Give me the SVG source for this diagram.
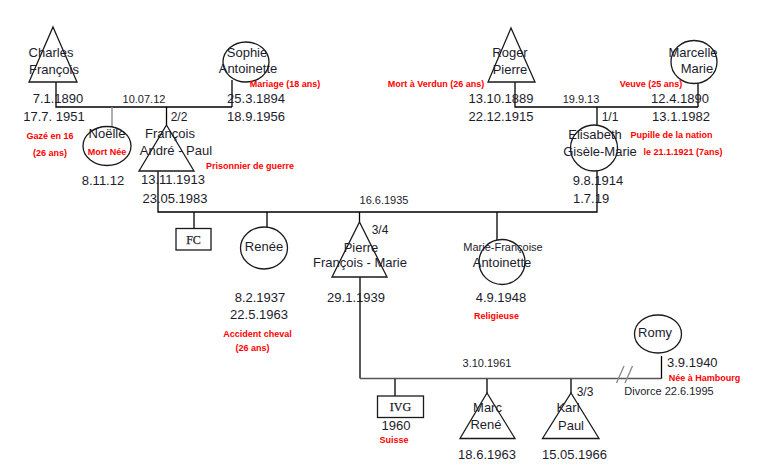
<svg xmlns="http://www.w3.org/2000/svg" width="774" height="472" viewBox="0 0 774 472">
<style>
.bg{fill:#fff}
.shape{fill:none;stroke:#1a1a1a;stroke-width:1.3}
.ln{fill:none;stroke:#000;stroke-width:1.3}
.gl{fill:none;stroke:#8c8c8c;stroke-width:1.4}
.dl{fill:none;stroke:#555;stroke-width:1.4}
text{font-family:"Liberation Sans",Arial,sans-serif;fill:#1c1c2c}
.n{font-size:13px;text-anchor:middle}
.d{font-size:13px;text-anchor:middle}
.s{font-size:11px;text-anchor:middle}
.f{font-size:12px;text-anchor:middle}
.r{font-size:9px;font-weight:bold;fill:#ff0000;text-anchor:middle}
.b{font-family:"Liberation Serif","Times New Roman",serif;font-size:12px;text-anchor:middle;stroke:#1c1c2c;stroke-width:0.25}
</style>
<rect class="bg" x="0" y="0" width="774" height="472"/>
<g id="connectors">
<path class="ln" d="M56 82V107H232"/>
<path class="ln" d="M232 80V107"/>
<path class="gl" d="M112 107V127"/>
<path class="ln" d="M166.5 107V125"/>
<path class="ln" d="M158 171V212H597V171"/>
<path class="ln" d="M194 212V228"/>
<path class="ln" d="M267 212V227"/>
<path class="ln" d="M359.5 212V222"/>
<path class="ln" d="M497 212V240"/>
<path class="ln" d="M515 82V107H698"/>
<path class="ln" d="M698 83V107"/>
<path class="ln" d="M597 107V125"/>
<path class="ln" d="M360 277V378.5"/>
<path class="dl" d="M360 378.5H661.5"/>
<path class="ln" d="M661.5 356V378.5"/>
<path class="ln" d="M395 379V396"/>
<path class="ln" d="M487 379V393"/>
<path class="ln" d="M571 379V393"/>
<path class="gl" d="M616.5 383L624 366M625 383L632.5 366"/>
</g>
<g id="charles"><polygon class="shape" points="53,27 77,82 29,82"/><text class="n" x="51" y="57">Charles</text><text class="n" x="54" y="74">François</text><text class="d" x="58" y="103">7.1.1890</text><text class="d" x="54" y="121">17.7. 1951</text><text class="r" x="50" y="139">Gazé en 16</text><text class="r" x="50" y="156">(26 ans)</text></g>
<g id="sophie"><ellipse class="shape" cx="246" cy="62" rx="23" ry="20"/><text class="n" x="247" y="57">Sophie</text><text class="n" x="248" y="73">Antoinette</text><text class="r" x="285" y="87">Mariage (18 ans)</text><text class="d" x="256" y="103">25.3.1894</text><text class="d" x="256" y="121">18.9.1956</text></g>
<g id="marriage1"><text class="s" x="144" y="103">10.07.12</text><text class="f" x="179" y="121">2/2</text></g>
<g id="noelle"><ellipse class="shape" cx="107" cy="146" rx="24" ry="19.5"/><text class="n" x="107" y="138">Noëlle</text><text class="r" x="107" y="155">Mort Née</text><text class="d" x="103" y="185">8.11.12</text></g>
<g id="francois"><polygon class="shape" points="166.5,125 194,171 139,171"/><text class="n" x="170" y="138">François</text><text class="n" x="176" y="155">André - Paul</text><text class="r" x="250" y="169">Prisonnier de guerre</text><text class="d" x="173" y="184">13.11.1913</text><text class="d" x="175" y="203">23.05.1983</text></g>
<g id="roger"><polygon class="shape" points="511,28 535,82 488,82"/><text class="n" x="510" y="57">Roger</text><text class="n" x="510" y="74">Pierre</text><text class="r" x="436" y="87">Mort à Verdun (26 ans)</text><text class="d" x="501" y="103">13.10.1889</text><text class="d" x="501" y="121">22.12.1915</text></g>
<g id="marcelle"><ellipse class="shape" cx="694" cy="62" rx="23" ry="21.5"/><text class="n" x="693" y="57">Marcelle</text><text class="n" x="697" y="73">Marie</text><text class="r" x="651" y="87">Veuve (25 ans)</text><text class="d" x="680" y="103">12.4.1890</text><text class="d" x="681" y="121">13.1.1982</text></g>
<g id="marriage2"><text class="s" x="581" y="103">19.9.13</text><text class="f" x="610" y="121">1/1</text></g>
<g id="elisabeth"><ellipse class="shape" cx="594" cy="148" rx="23.5" ry="23"/><text class="n" x="595" y="139">Elisabeth</text><text class="n" x="600" y="156">Gisèle-Marie</text><text class="r" x="671.5" y="138">Pupille de la nation</text><text class="r" x="683" y="155">le 21.1.1921 (7ans)</text><text class="d" x="598" y="185">9.8.1914</text><text class="d" x="573" y="203" style="text-anchor:start">1.7.19</text></g>
<g id="marriage3"><text class="s" x="384" y="204">16.6.1935</text><text class="f" x="380" y="234">3/4</text></g>
<g id="fc"><rect class="shape" x="176" y="228.5" width="35" height="21.5"/><text class="b" x="193.5" y="244">FC</text></g>
<g id="renee"><ellipse class="shape" cx="264" cy="248" rx="23.5" ry="21"/><text class="n" x="264" y="251">Renée</text><text class="d" x="260" y="302">8.2.1937</text><text class="d" x="259" y="319">22.5.1963</text><text class="r" x="257.5" y="337">Accident cheval</text><text class="r" x="252.5" y="351">(26 ans)</text></g>
<g id="pierre"><polygon class="shape" points="359.5,222 387,277 332,277"/><text class="n" x="361" y="252">Pierre</text><text class="n" x="360" y="267">François - Marie</text><text class="d" x="356" y="302">29.1.1939</text></g>
<g id="mariefrancoise"><ellipse class="shape" cx="502" cy="262" rx="23" ry="22.5"/><text class="s" x="503" y="251">Marie-Françoise</text><text class="n" x="502" y="267">Antoinette</text><text class="d" x="501" y="302">4.9.1948</text><text class="r" x="496.5" y="319">Religieuse</text></g>
<g id="romy"><ellipse class="shape" cx="658" cy="334" rx="23.5" ry="19"/><text class="n" x="655" y="337">Romy</text><text class="d" x="667" y="367" style="text-anchor:start">3.9.1940</text><text class="r" x="704.5" y="381">Née à Hambourg</text></g>
<g id="marriage4"><text class="s" x="487" y="367">3.10.1961</text><text class="f" x="585" y="396">3/3</text><text class="s" x="669" y="395">Divorce 22.6.1995</text></g>
<g id="ivg"><rect class="shape" x="377.5" y="396" width="46" height="21.5"/><text class="b" x="400.5" y="411">IVG</text><text class="d" x="396" y="430">1960</text><text class="r" x="394" y="443">Suisse</text></g>
<g id="marc"><polygon class="shape" points="487,393 515,438.5 460,438.5"/><text class="n" x="487.5" y="412">Marc</text><text class="n" x="486" y="429">René</text><text class="d" x="487" y="459">18.6.1963</text></g>
<g id="karl"><polygon class="shape" points="571,393 599,438.5 542.5,438.5"/><text class="n" x="568" y="412">Karl</text><text class="n" x="571" y="430">Paul</text><text class="d" x="574.5" y="459">15.05.1966</text></g>
</svg>
